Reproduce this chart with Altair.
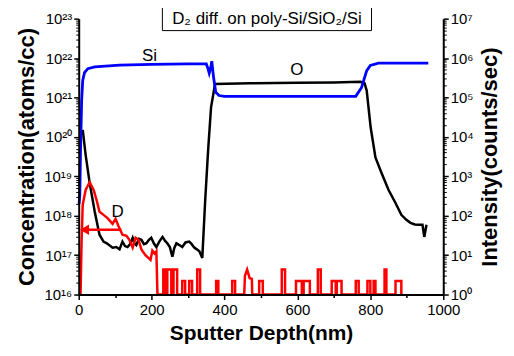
import altair as alt
import pandas as pd

# ---------------- data ----------------
# O (black, left axis, atoms/cc)
o_depth = [11, 19, 30, 44, 57, 68, 77, 93, 103, 112, 120, 127, 134, 141, 148, 153, 158, 165, 172,
           179, 186, 192, 199, 206, 213, 221, 230, 237, 243, 250, 257, 262, 268, 276, 284, 293,
           303, 310, 317, 324, 331, 339, 347, 355, 363, 374, 470, 600, 700, 773, 784, 790,
           801, 814, 831, 850, 869, 885, 898, 910, 922, 932, 943, 948, 954]
o_conc = [1.5e20, 3.5e19, 6.8e18, 1.26e18, 3.3e17, 2.2e17, 2.0e17, 1.55e17, 1.6e17, 1.4e17,
          2.2e17, 1.7e17, 1.6e17, 1.9e17, 2.75e17, 2.0e17, 1.8e17, 2.6e17, 2.45e17,
          1.9e17, 2.0e17, 2.4e17, 2.75e17, 2.0e17, 1.6e17, 2.2e17, 2.9e17, 2.3e17, 2.0e17,
          1.6e17, 9.1e16, 1.5e17, 2.0e17, 1.8e17, 1.6e17, 2.1e17, 2.2e17, 1.9e17, 1.55e17,
          1.4e17, 1.25e17, 8.5e16, 2.5e18, 4.6e19, 5.6e20, 2.2e21, 2.3e21, 2.35e21, 2.4e21,
          2.5e21, 2.3e21, 1.5e21, 1.7e20, 3.0e19, 1.2e19, 4.5e18, 2.1e18, 1.05e18, 8.0e17,
          6.6e17, 6.0e17, 5.9e17, 5.9e17, 2.9e17, 5.9e17]

# D (red, left axis, atoms/cc) - profile near the surface
d_depth = [5, 8, 11, 19, 30, 41, 49, 57, 68, 79, 93, 101, 109, 120, 131, 139, 148, 156,
           164, 172, 183, 191, 197, 202, 208, 213, 216]
d_conc = [1e16, 2.5e17, 1.9e18, 4.5e18, 7.1e18, 4.5e18, 2.5e18, 1.26e18, 1.05e18, 8.7e17,
          6.2e17, 8.3e17, 5.5e17, 3.3e17, 3.1e17, 2.45e17, 1.55e17, 2.75e17, 2.45e17,
          1.4e17, 1.0e17, 8.5e16, 7.6e16, 1.3e17, 1.1e17, 1.25e17, 1e16]
# D background bursts deeper in the sample
spike_start = [232, 243, 260, 284, 303, 325, 377, 421, 495, 557, 596, 617, 656, 694,
               708, 760, 792, 809, 839, 869]
spike_end = [238, 254, 270, 292, 311, 333, 383, 429, 505, 566, 612, 634, 664, 705,
             721, 768, 800, 814, 844, 885]
spike_top = [4.3e16, 4.3e16, 4.3e16, 2.2e16, 2.2e16, 4.3e16, 2.2e16, 2.2e16, 2.2e16,
             4.3e16, 2.2e16, 2.2e16, 4.3e16, 2.2e16, 2.2e16, 2.2e16, 2.2e16, 2.2e16,
             4.3e16, 2.2e16]
bump_depth = [454, 456, 462, 469, 475, 476]
bump_conc = [1e16, 3.0e16, 4.3e16, 2.6e16, 2.5e16, 1e16]

# Si (blue, right axis, counts/sec)
si_depth = [1, 3, 5, 8, 11, 16, 25, 44, 112, 200, 300, 350, 354, 358, 362, 365, 370, 376,
            385, 400, 550, 760, 776, 790, 800, 822, 900, 959]
si_int = [200, 340, 4.6e3, 8.3e4, 2.7e5, 4.3e5, 5.4e5, 6.0e5, 6.6e5, 6.9e5, 7.1e5, 7.1e5,
          5.6e5, 4.1e5, 5.6e5, 8.3e5, 3.2e5, 1.35e5, 1.12e5, 1.07e5, 1.07e5, 1.07e5, 1.8e5,
          4.8e5, 6.5e5, 7.4e5, 7.4e5, 7.4e5]

# annotations
lbl_left_text = ["O", "D"]
lbl_left_x = [598, 107]
lbl_left_y = [5.1e21, 1.26e18]
lbl_si_x = [194]
lbl_si_y = [1.15e6]
arrow_from = [117]
arrow_to = [16]
arrow_y = [4.4e17]
title_text = "D\u2082 diff. on poly-Si/SiO\u2082/Si"

x_major = [0, 200, 400, 600, 800, 1000]
x_minor = [100, 300, 500, 700, 900]
left_exp = list(range(16, 24))
right_exp = list(range(0, 8))

# ---------------- build tables ----------------
d_x, d_y = list(d_depth), list(d_conc)
segments = []
for s, e, t in zip(spike_start, spike_end, spike_top):
    segments.append(([s, s, e, e], [1e16, t, t, 1e16]))
segments.insert(8, (bump_depth, bump_conc))
for xs, ys in segments:
    d_x += xs
    d_y += ys
d_df = pd.DataFrame({"depth": d_x, "conc": d_y, "order": range(len(d_x))})
o_df = pd.DataFrame({"depth": o_depth, "conc": o_conc})
si_df = pd.DataFrame({"depth": si_depth, "int": si_int})
lbl_df = pd.DataFrame({"t": lbl_left_text, "x": lbl_left_x, "y": lbl_left_y})
si_lbl_df = pd.DataFrame({"t": ["Si"], "x": lbl_si_x, "y": lbl_si_y})
arrow_df = pd.DataFrame({"x": arrow_from, "x2": arrow_to, "y": arrow_y})

FONT = "Liberation Sans"
SUP = str.maketrans("0123456789", "\u2070\u00b9\u00b2\u00b3\u2074\u2075\u2076\u2077\u2078\u2079")


def label_expr(exps):
    parts = [f"round(log(datum.value)/LN10) == {e} ? '10{str(e).translate(SUP)}'" for e in exps]
    return " : ".join(parts) + " : ''"


left_major = [10.0 ** e for e in left_exp]
left_minor = [k * 10.0 ** e for e in left_exp[:-1] for k in range(2, 10)]
right_major = [10.0 ** e for e in right_exp]
right_minor = [k * 10.0 ** e for e in right_exp[:-1] for k in range(2, 10)]

x_scale = alt.Scale(domain=[0, 1000], nice=False)
left_scale = alt.Scale(type="log", domain=[1e16, 1e23], nice=False)
right_scale = alt.Scale(type="log", domain=[1, 1e7], nice=False)

common_axis = dict(grid=False, labelFont=FONT, titleFont=FONT, labelColor="black",
                   titleColor="black", tickColor="black", domainColor="black", zindex=1,
                   labelFlush=False)

x_axis_major = alt.Axis(values=x_major, tickSize=5, tickWidth=1.5, domainWidth=2,
                        labelFontSize=15, labelPadding=3, title="Sputter Depth(nm)",
                        titleFontSize=21, titleFontWeight="bold", titlePadding=5,
                        format="d", **common_axis)
x_axis_minor = alt.Axis(values=x_minor, tickSize=3, tickWidth=1.5, labels=False, domain=False,
                        title="", orient="bottom", **common_axis)
y_left_major = alt.Axis(orient="left", values=left_major, labelExpr=label_expr(left_exp),
                        tickSize=5, tickWidth=1.5, domainWidth=2, labelFontSize=15,
                        labelPadding=2, title="Concentration(atoms/cc)", titleFontSize=22,
                        titleFontWeight="bold", titlePadding=5, **common_axis)
y_left_minor = alt.Axis(orient="left", values=left_minor, tickSize=3, tickWidth=1,
                        labels=False, domain=False, title="", **common_axis)
y_right_major = alt.Axis(orient="right", values=right_major, labelExpr=label_expr(right_exp),
                         tickSize=5, tickWidth=1.5, domainWidth=2, labelFontSize=15,
                         labelPadding=2, title="Intensity(counts/sec)", titleFontSize=22,
                         titleFontWeight="bold", titlePadding=6, titleAngle=270,
                         titleBaseline="top", **common_axis)
y_right_minor = alt.Axis(orient="right", values=right_minor, tickSize=3, tickWidth=1,
                         labels=False, domain=False, title="", **common_axis)

o_line = alt.Chart(o_df).mark_line(color="black", strokeWidth=2.5).encode(
    x=alt.X("depth:Q", scale=x_scale, axis=x_axis_major),
    y=alt.Y("conc:Q", scale=left_scale, axis=y_left_major),
)
si_line = alt.Chart(si_df).mark_line(color="#0000ff", strokeWidth=2.8).encode(
    x=alt.X("depth:Q", scale=x_scale, axis=None),
    y=alt.Y("int:Q", scale=right_scale, axis=y_right_major),
)
d_line = alt.Chart(d_df).mark_line(color="#ff0000", strokeWidth=2.5).encode(
    x=alt.X("depth:Q", scale=x_scale, axis=x_axis_minor),
    y=alt.Y("conc:Q", scale=left_scale, axis=y_left_minor),
    order="order:Q",
)
arrow_line = alt.Chart(arrow_df).mark_rule(color="#ff0000", strokeWidth=2.5).encode(
    x=alt.X("x:Q", scale=x_scale, axis=None),
    x2="x2:Q",
    y=alt.Y("y:Q", scale=left_scale, axis=None),
)
arrow_head = alt.Chart(arrow_df).mark_point(shape="triangle-left", filled=True, color="#ff0000",
                                            size=110, opacity=1).encode(
    x=alt.X("x2:Q", scale=x_scale, axis=None),
    y=alt.Y("y:Q", scale=left_scale, axis=None),
)
labels = alt.Chart(lbl_df).mark_text(font=FONT, fontSize=17, color="black").encode(
    x=alt.X("x:Q", scale=x_scale, axis=None),
    y=alt.Y("y:Q", scale=left_scale, axis=None),
    text="t:N",
)
si_label = alt.Chart(si_lbl_df).mark_text(font=FONT, fontSize=17, color="black").encode(
    x=alt.X("x:Q", scale=x_scale, axis=None),
    y=alt.Y("y:Q", scale=right_scale, axis=y_right_minor),
    text="t:N",
)
box = alt.Chart(si_lbl_df).mark_rect(fill="white", stroke="black", strokeWidth=1).encode(
    x=alt.value(84), x2=alt.value(294), y=alt.value(-12), y2=alt.value(12),
)
box_text = alt.Chart(si_lbl_df).mark_text(font=FONT, fontSize=17, color="black").encode(
    x=alt.value(189), y=alt.value(0), text=alt.value(title_text),
)

chart = alt.layer(
    o_line, si_line, d_line, arrow_line, arrow_head, labels, si_label, box, box_text
).resolve_scale(x="independent", y="independent").properties(
    width=366, height=277,
    autosize=alt.AutoSizeParams(type="none"),
    padding={"left": 71, "top": 10, "right": 63, "bottom": 60},
    background="white",
).configure_view(stroke=None)

chart.save("out.html", embed_options={"renderer": "svg", "actions": False})
